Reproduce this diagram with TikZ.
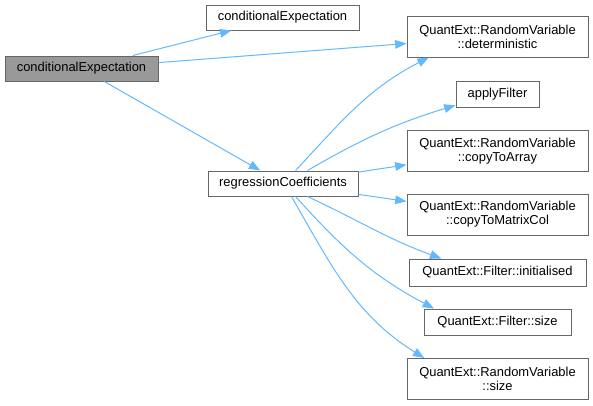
\documentclass[tikz,border=0pt]{standalone}
\usepackage{fontspec}
\setmainfont{Liberation Sans}
\usepackage{xcolor}
\usetikzlibrary{arrows.meta}

\definecolor{edgeblue}{HTML}{63B8FF}
\definecolor{boxline}{HTML}{666666}
\definecolor{boxgray}{HTML}{999999}

\begin{document}
\begin{tikzpicture}[
    x=0.75pt, y=0.75pt,
    func/.style={rectangle, draw=boxline, fill=white, line width=0.75pt, inner sep=0pt, align=center, font=\fontsize{9.7}{10.5}\selectfont},
    root/.style={func, fill=boxgray},
    call/.style={draw=edgeblue, line width=0.75pt, -{Triangle[length=8.5pt, width=6.5pt]}}
]
    \useasboundingbox (0,0) rectangle (593,-405);

    \node [root, minimum width=114.75pt, minimum height=18.75pt] (cexp) at (81.5, -68.5) {conditionalExpectation};
    \node [func, minimum width=114.75pt, minimum height=18.75pt] (cexpb) at (282.5, -17.5) {conditionalExpectation};
    \node [func, minimum width=112.5pt, minimum height=18.75pt] (regc) at (283, -183.5) {regressionCoefficients};

    \node [func, minimum width=135.75pt, minimum height=30.75pt] (det) at (497.5, -36.5) {QuantExt::RandomVariable\\::deterministic};
    \node [func, minimum width=62.25pt, minimum height=19.5pt] (applyf) at (497.5, -94) {applyFilter};
    \node [func, minimum width=135.75pt, minimum height=30.75pt] (copyarr) at (497.5, -151) {QuantExt::RandomVariable\\::copyToArray};
    \node [func, minimum width=135.75pt, minimum height=30.75pt] (copymat) at (497.5, -214.5) {QuantExt::RandomVariable\\::copyToMatrixCol};
    \node [func, minimum width=132.75pt, minimum height=20.25pt] (finit) at (497.5, -272.5) {QuantExt::Filter::initialised};
    \node [func, minimum width=110.25pt, minimum height=19.5pt] (fsize) at (497.5, -322) {QuantExt::Filter::size};
    \node [func, minimum width=135.75pt, minimum height=30.75pt] (rvsize) at (497.5, -379) {QuantExt::RandomVariable\\::size};

    % calls of the root function
    \draw [call] (cexp) -- (cexpb);
    \draw [call] (cexp) -- (det);
    \draw [call] (cexp) -- (regc);

    % calls of regressionCoefficients
    \draw [call] (regc.46) to[out=47, in=207] (det.197);
    \draw [call] (regc.28) to[out=30, in=197] (applyf.195);
    \draw [call] (regc) -- (copyarr);
    \draw [call] (regc) -- (copymat);
    \draw [call] (regc.332) to[out=-25, in=160] (finit.166);
    \draw [call] (regc.314) to[out=-48, in=152] (fsize.168);
    \draw [call] (regc.303) to[out=-60, in=148] (rvsize.164);
\end{tikzpicture}
\end{document}
